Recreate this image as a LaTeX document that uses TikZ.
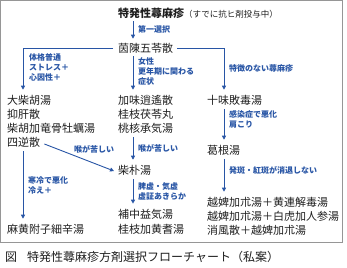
\documentclass[tikz,border=0pt]{standalone}
\usepackage{fontspec}
\newfontfamily\jp{Noto Sans CJK JP}
\usetikzlibrary{arrows.meta}
\definecolor{lblue}{RGB}{40,85,165}
\definecolor{ink}{RGB}{30,30,30}
\definecolor{frame}{RGB}{150,150,150}
\tikzset{
  x=1pt, y=-1pt,
  drug/.style={anchor=west, inner sep=0pt, text=ink, font=\jp\fontsize{11}{13}\selectfont},
  lbl/.style={anchor=west, inner sep=0pt, text=lblue, align=left, font=\jp\bfseries\fontsize{8}{10}\selectfont},
  arr/.style={draw=lblue, line width=0.9pt, -{Triangle[length=4pt,width=4pt]}},
  ln/.style={draw=lblue, line width=0.9pt},
}
\begin{document}
\begin{tikzpicture}
\useasboundingbox (0,0) rectangle (347,267);
\draw[frame, line width=1pt] (0.5,0.5) rectangle (342.5,242);
\coordinate (lx) at (23,0);
\coordinate (cx) at (133,0);
\coordinate (rx) at (224,0);
% title
\node[anchor=west, inner sep=0pt, text=ink] (title) at (118,13)
  {{\jp\bfseries\fontsize{11}{13}\selectfont 特発性蕁麻疹}{\jp\fontsize{8.5}{10}\selectfont （すでに抗ヒ剤投与中）}};
\node[drug] (inchin) at (118,48) {茵陳五苓散};
% left column
\node[drug] (daisaiko) at (7,100) {大柴胡湯};
\node[drug] (yokukan) at (7,114) {抑肝散};
\node[drug] (saiko) at (7,128) {柴胡加竜骨牡蠣湯};
\node[drug] (shigyaku) at (7,142) {四逆散};
\node[drug] (mao) at (7,229) {麻黄附子細辛湯};
% middle column
\node[drug] (kami) at (118,100) {加味逍遙散};
\node[drug] (keishi) at (118,114) {桂枝茯苓丸};
\node[drug] (toukaku) at (118,128) {桃核承気湯};
\node[drug] (saiboku) at (118,170) {柴朴湯};
\node[drug] (hochu) at (118,214) {補中益気湯};
\node[drug] (keishikaou) at (118,229) {桂枝加黄耆湯};
% right column
\node[drug] (jumi) at (207,100) {十味敗毒湯};
\node[drug] (kakkon) at (207,150) {葛根湯};
\node[drug] (eppi1) at (207,202) {越婢加朮湯＋黄連解毒湯};
\node[drug] (eppi2) at (207,216) {越婢加朮湯＋白虎加人参湯};
\node[drug] (shofu) at (207,230) {消風散＋越婢加朮湯};
% labels
\node[lbl] (l1) at (138,29) {第一選択};
\node[lbl] (l2) at (29,67) {体格普通\\ストレス＋\\心因性＋};
\node[lbl] (l3) at (138,71) {女性\\更年期に関わる\\症状};
\node[lbl] (l4) at (229,68) {特徴のない蕁麻疹};
\node[lbl] (l5) at (74,149) {喉が苦しい};
\node[lbl] (l6) at (138,148) {喉が苦しい};
\node[lbl] (l7) at (28,185) {寒冷で悪化\\冷え＋};
\node[lbl] (l8) at (138,191) {脾虚・気虚\\虚証あきらか};
\node[lbl] (l9) at (229,119) {感染症で悪化\\肩こり};
\node[lbl] (l10) at (229,170) {発斑・紅斑が消退しない};
% connectors
\draw[arr] ([yshift=-3pt]title.south -| cx) -- ([yshift=4pt]inchin.north -| cx);
\draw[arr] ([xshift=-5pt]inchin.west) -- (lx |- inchin.west) -- ([yshift=5pt]daisaiko.north -| lx);
\draw[arr] ([yshift=-3pt]inchin.south -| cx) -- ([yshift=5pt]kami.north -| cx);
\draw[arr] ([xshift=4pt]inchin.east) -- (rx |- inchin.east) -- ([yshift=5pt]jumi.north -| rx);
\draw[arr] ([yshift=-4pt]toukaku.south -| cx) -- ([yshift=5pt]saiboku.north -| cx);
\draw[arr] ([xshift=4pt,yshift=-2pt]shigyaku.east) -- ([xshift=-4pt,yshift=-1pt]saiboku.west);
\draw[arr] ([yshift=-4pt]shigyaku.south -| lx) -- ([yshift=5pt]mao.north -| lx);
\draw[arr] ([yshift=-4pt]saiboku.south -| cx) -- ([yshift=5pt]hochu.north -| cx);
\draw[arr] ([yshift=-4pt]jumi.south -| rx) -- ([yshift=5pt]kakkon.north -| rx);
\draw[arr] ([yshift=-4pt]kakkon.south -| rx) -- ([yshift=5pt]eppi1.north -| rx);
% caption
\node[anchor=west, inner sep=0pt, text=ink, font=\jp\fontsize{12}{14}\selectfont] (fig) at (5,257) {図};
\node[anchor=west, inner sep=0pt, text=ink, font=\jp\fontsize{12}{14}\selectfont] (caption) at (27,257) {特発性蕁麻疹方剤選択フローチャート（私案）};
\end{tikzpicture}
\end{document}
